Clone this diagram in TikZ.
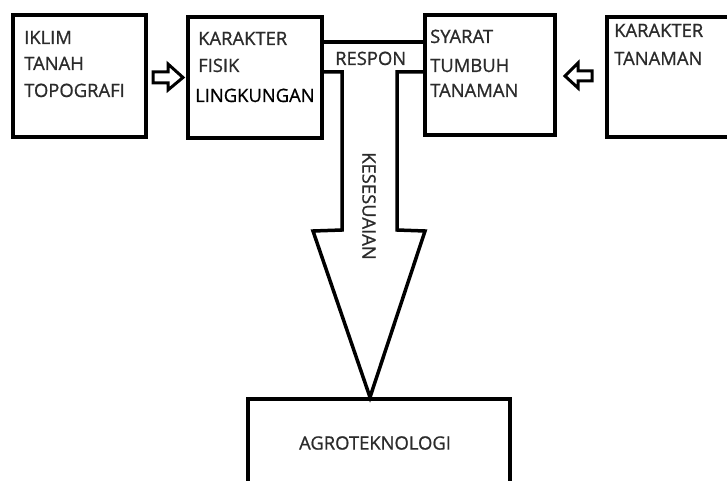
\documentclass[tikz,border=0pt]{standalone}
\usepackage{fontspec}
\setmainfont{Open Sans}[FakeBold=0.9]
\definecolor{txt}{HTML}{2B2B2B}
\begin{document}
\begin{tikzpicture}[x=1pt,y=-1pt,
  box/.style={draw=black,line width=3.5pt,minimum width=#1,inner sep=0pt},
  lbl/.style={anchor=base west,inner sep=0pt,text=txt,font=\fontsize{18.4}{20}\selectfont},
  edge/.style={draw=black,line width=3.5pt,line join=miter}]
\useasboundingbox (0,0) rectangle (727,481);
\clip (0,0) rectangle (727,481);
\fill[white] (0,0) rectangle (727,481);
% boxes
\node[box=133pt,minimum height=122pt] (b1) at (79.5,76) {};
\node[box=134pt,minimum height=121pt] (b2) at (255,77.5) {};
\node[box=130pt,minimum height=120pt] (b3) at (490,75) {};
\node[box=140pt,minimum height=120pt] (b4) at (677,77) {};
\node[box=262pt,minimum height=120pt] (b5) at (379,459) {};
% texts
\node[lbl] (t1) at (24,44) {IKLIM};
\node[lbl] (t2) at (24,70) {TANAH};
\node[lbl] (t3) at (24,97) {TOPOGRAFI};
\node[lbl] (t4) at (198,45) {KARAKTER};
\node[lbl] (t5) at (198,72) {FISIK};
\node[lbl,text=black] (t6) at (195,102) {LINGKUNGAN};
\node[lbl] (t7) at (335,65) {RESPON};
\node[lbl] (t8) at (430,43) {SYARAT};
\node[lbl] (t9) at (430,72) {TUMBUH};
\node[lbl] (t10) at (430,97) {TANAMAN};
\node[lbl] (t11) at (614,37) {KARAKTER};
\node[lbl] (t12) at (614,65) {TANAMAN};
\node[lbl,anchor=center] (t13) at (375,443) {AGROTEKNOLOGI};
\node[lbl,anchor=center,rotate=-90] (t14) at (369,206) {KESESUAIAN};
% small hollow arrows
\draw[edge,line width=3pt] (153,72) -- (168,72) -- (168,64) -- (183,77.5) -- (168,90) -- (168,83) -- (153,83) -- cycle;
\draw[edge,line width=3pt] (592,71) -- (578,71) -- (578,63) -- (565,76) -- (578,88) -- (578,81) -- (592,81) -- cycle;
% respon channel and big arrow
\coordinate (c1) at (b2.east |- 0,42);
\coordinate (c2) at (b3.west |- 0,42);
\draw[edge] (c1) -- (c2);
\draw[edge] (b2.east |- 0,72) -- (342,72) -- (342,230) -- (313,231) -- (b5.north -| 370,0) -- (425,231) -- (397,230) -- (397,72) -- (b3.west |- 0,72);
\end{tikzpicture}
\end{document}
